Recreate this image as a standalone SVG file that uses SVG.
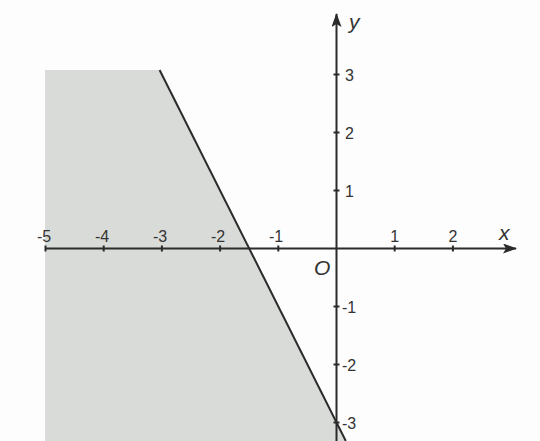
<svg xmlns="http://www.w3.org/2000/svg" width="540" height="441" viewBox="0 0 540 441">
<defs>
<style>
.ax{stroke:#2b2b2b;stroke-width:2;fill:none}
.tk{stroke:#2b2b2b;stroke-width:2}
.lbl{font-family:"Liberation Sans",Arial,sans-serif;font-size:16px;fill:#333}
.var{font-family:"Liberation Sans",Arial,sans-serif;font-size:21px;font-style:italic;fill:#333}
</style>
<marker id="arr" viewBox="0 0 14 10" refX="13" refY="5" markerWidth="14" markerHeight="10" markerUnits="userSpaceOnUse" orient="auto">
<path d="M0,0 L14,5 L0,10 L3,5 Z" fill="#2b2b2b"/>
</marker>
</defs>
<rect width="540" height="441" fill="#fdfdfd"/>
<g id="region">
<polygon points="45,70 159.6,70 345.8,441 45,441" fill="#d9dbd8"/>
</g>
<g id="axes">
<g id="x-axis">
<line class="ax" x1="45" y1="248.5" x2="516" y2="248.5" marker-end="url(#arr)"/>
<g class="tk">
<line x1="45.5" y1="245.5" x2="45.5" y2="251.5"/>
<line x1="103.7" y1="245.5" x2="103.7" y2="251.5"/>
<line x1="161.9" y1="245.5" x2="161.9" y2="251.5"/>
<line x1="220.1" y1="245.5" x2="220.1" y2="251.5"/>
<line x1="278.3" y1="245.5" x2="278.3" y2="251.5"/>
<line x1="394.7" y1="245.5" x2="394.7" y2="251.5"/>
<line x1="452.9" y1="245.5" x2="452.9" y2="251.5"/>
</g>
<g class="lbl" text-anchor="middle">
<text x="44" y="242">-5</text>
<text x="102" y="242">-4</text>
<text x="160" y="242">-3</text>
<text x="218" y="242">-2</text>
<text x="276" y="242">-1</text>
<text x="394.7" y="242">1</text>
<text x="452.9" y="242">2</text>
</g>
<text class="var" x="499" y="240">x</text>
</g>
<g id="y-axis">
<line class="ax" x1="336.5" y1="441" x2="336.5" y2="14" marker-end="url(#arr)"/>
<g class="tk">
<line x1="333.5" y1="74.5" x2="339.5" y2="74.5"/>
<line x1="333.5" y1="132.5" x2="339.5" y2="132.5"/>
<line x1="333.5" y1="190.5" x2="339.5" y2="190.5"/>
<line x1="333.5" y1="306.5" x2="339.5" y2="306.5"/>
<line x1="333.5" y1="364.5" x2="339.5" y2="364.5"/>
<line x1="333.5" y1="422.5" x2="339.5" y2="422.5"/>
</g>
<g class="lbl">
<text x="345" y="80.5">3</text>
<text x="345" y="138.5">2</text>
<text x="345" y="196.5">1</text>
<text x="342" y="312.5">-1</text>
<text x="342" y="370.5">-2</text>
<text x="342" y="428.5">-3</text>
</g>
<text class="var" x="349" y="29">y</text>
</g>
<text class="var" x="314" y="275">O</text>
</g>
<g id="connectors">
<line class="ax" x1="159.6" y1="70" x2="345.8" y2="441"/>
</g>
</svg>
